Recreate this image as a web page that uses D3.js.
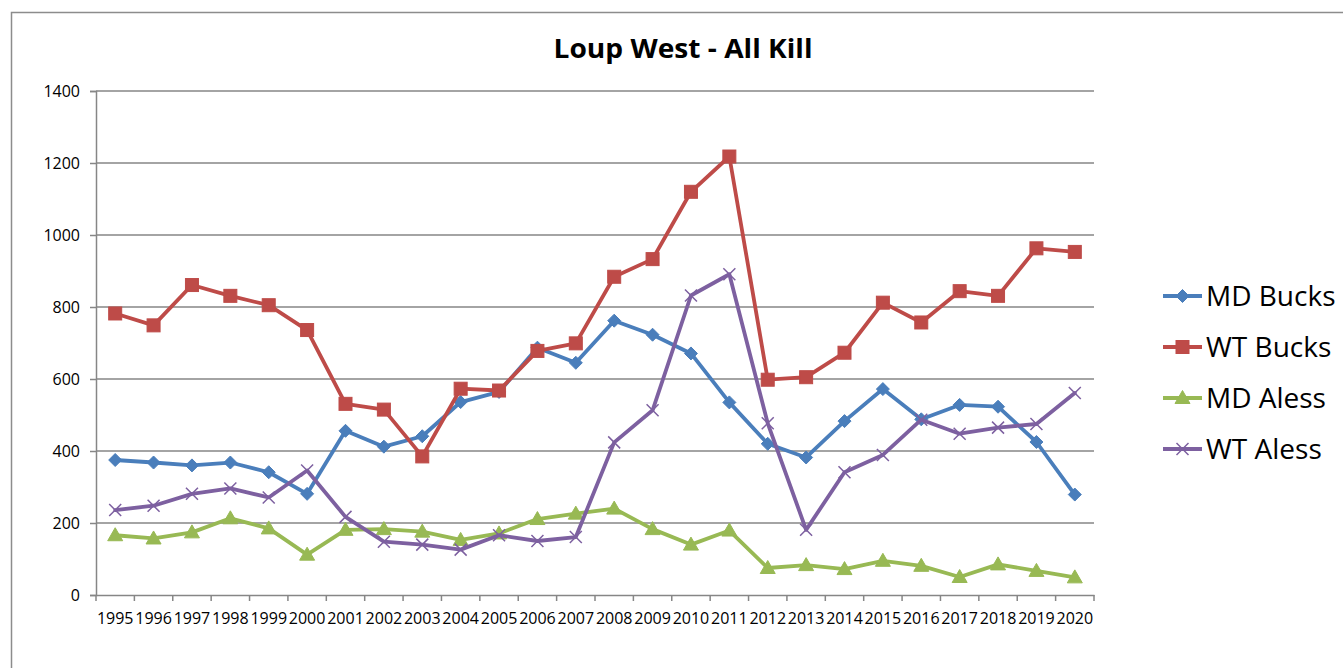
<!DOCTYPE html>
<html>
<head>
<meta charset="utf-8">
<script src="https://cdn.jsdelivr.net/npm/d3@7"></script>
<style>
  html, body { margin: 0; padding: 0; background: #fff; }
  svg { display: block; }
  text { font-family: "Open Sans", "Liberation Sans", sans-serif; }
</style>
</head>
<body>
<svg id="chart" width="1343" height="668"></svg>
<script>
const years = ["1995","1996","1997","1998","1999","2000","2001","2002","2003","2004","2005","2006","2007","2008","2009","2010","2011","2012","2013","2014","2015","2016","2017","2018","2019","2020"];
const mdBucks = [375,368,360,368,341,281,456,412,441,536,564,687,645,762,723,671,535,420,382,483,572,488,528,523,425,279];
const wtBucks = [782,749,861,831,805,736,531,515,385,573,568,678,699,884,933,1120,1218,598,605,673,812,757,844,831,963,953];
const mdAless = [166,157,174,213,185,112,181,183,176,153,171,211,226,240,183,140,179,75,83,72,95,81,50,85,67,49];
const wtAless = [236,248,281,296,271,346,217,148,140,126,166,150,161,424,513,832,891,477,181,341,389,487,448,465,475,561];
const yTicks = [0,200,400,600,800,1000,1200,1400];
const seriesNames = ["MD Bucks","WT Bucks","MD Aless","WT Aless"];
const seriesColors = ["#4A7EBB","#BE4B48","#98B954","#7D60A0"];
const seriesMarkers = ["diamond","square","triangle","cross"];
const seriesValues = [mdBucks, wtBucks, mdAless, wtAless];
const titleText = "Loup West - All Kill";

const svg = d3.select("#chart");

// chart area border
svg.append("path")
  .attr("d", "M11.5,668 L11.5,12.5 L1343,12.5")
  .attr("fill", "none").attr("stroke", "#8C8C8C").attr("stroke-width", 1.5);

const x = d3.scaleBand().domain(years).range([96, 1094]).padding(0);
const y = d3.scaleLinear().domain([0, 1400]).range([595, 91]);
const cx = d => x(d) + x.bandwidth() / 2;

// gridlines
svg.append("g").selectAll("line").data(yTicks.filter(v => v > 0)).join("line")
  .attr("x1", 96).attr("x2", 1094)
  .attr("y1", d => y(d)).attr("y2", d => y(d))
  .attr("stroke", "#868686").attr("stroke-width", 1.5);

// y axis
const yAxis = d3.axisLeft(y).tickValues(yTicks).tickSize(6).tickPadding(10).tickFormat(d3.format("d"));
const gy = svg.append("g").attr("transform", "translate(96,0)").call(yAxis);
gy.select(".domain").attr("stroke", "#868686").attr("stroke-width", 1.5);
gy.selectAll(".tick line").attr("stroke", "#868686").attr("stroke-width", 1.5);
gy.selectAll(".tick text").attr("font-size", 16).attr("fill", "#000")
  .style("font-family", "'Open Sans', sans-serif");

// x axis
const xAxis = d3.axisBottom(x).tickSize(0).tickPadding(18);
const gx = svg.append("g").attr("transform", "translate(0,595)").call(xAxis);
gx.select(".domain").attr("stroke", "#868686").attr("stroke-width", 1.5);
gx.selectAll(".tick text").attr("font-size", 16).attr("fill", "#000")
  .style("font-family", "'Open Sans', sans-serif");
// category boundary tick marks
const bounds = years.map(d => x(d)).concat([x(years[years.length - 1]) + x.bandwidth()]);
gx.append("g").selectAll("line").data(bounds).join("line")
  .attr("x1", d => d).attr("x2", d => d).attr("y1", 0).attr("y2", 6)
  .attr("stroke", "#868686").attr("stroke-width", 1.5);

// markers
function drawMarker(g, type, color, px, py, scale) {
  const s = scale || 1;
  if (type === "diamond") {
    const r = 6.5 * s;
    g.append("path").attr("d", `M${px},${py - r}L${px + r},${py}L${px},${py + r}L${px - r},${py}Z`)
      .attr("fill", color).attr("stroke", color).attr("stroke-width", 1);
  } else if (type === "square") {
    const h = 6.5 * s;
    g.append("rect").attr("x", px - h).attr("y", py - h).attr("width", 2 * h).attr("height", 2 * h)
      .attr("fill", color).attr("stroke", color).attr("stroke-width", 1);
  } else if (type === "triangle") {
    const h = 6.5 * s;
    g.append("path").attr("d", `M${px},${py - h - 1}L${px + h + 1},${py + h - 1}L${px - h - 1},${py + h - 1}Z`)
      .attr("fill", color).attr("stroke", color).attr("stroke-width", 1);
  } else if (type === "cross") {
    const h = 6 * s;
    g.append("path").attr("d", `M${px - h},${py - h}L${px + h},${py + h}M${px - h},${py + h}L${px + h},${py - h}`)
      .attr("fill", "none").attr("stroke", color).attr("stroke-width", 1.5);
  }
}

const line = d3.line().x((d, i) => cx(years[i])).y(d => y(d));

seriesValues.forEach((vals, si) => {
  const g = svg.append("g");
  g.append("path").datum(vals).attr("d", line)
    .attr("fill", "none").attr("stroke", seriesColors[si]).attr("stroke-width", 3.8)
    .attr("stroke-linejoin", "round").attr("stroke-linecap", "round");
  vals.forEach((v, i) => drawMarker(g, seriesMarkers[si], seriesColors[si], cx(years[i]), y(v)));
});

// title
svg.append("text").attr("x", 683).attr("y", 58).attr("text-anchor", "middle")
  .attr("font-size", 27).attr("font-weight", "bold").attr("fill", "#000")
  .attr("textLength", 259).attr("lengthAdjust", "spacingAndGlyphs")
  .text(titleText);

// legend
const legY = [296, 347, 398, 449];
seriesNames.forEach((name, i) => {
  const g = svg.append("g");
  g.append("line").attr("x1", 1163).attr("x2", 1202).attr("y1", legY[i]).attr("y2", legY[i])
    .attr("stroke", seriesColors[i]).attr("stroke-width", 3.8);
  drawMarker(g, seriesMarkers[i], seriesColors[i], 1182.5, legY[i]);
  g.append("text").attr("x", 1206).attr("y", legY[i]).attr("dy", "0.36em")
    .attr("font-size", 28).attr("fill", "#000").text(name);
});
</script>
</body>
</html>
